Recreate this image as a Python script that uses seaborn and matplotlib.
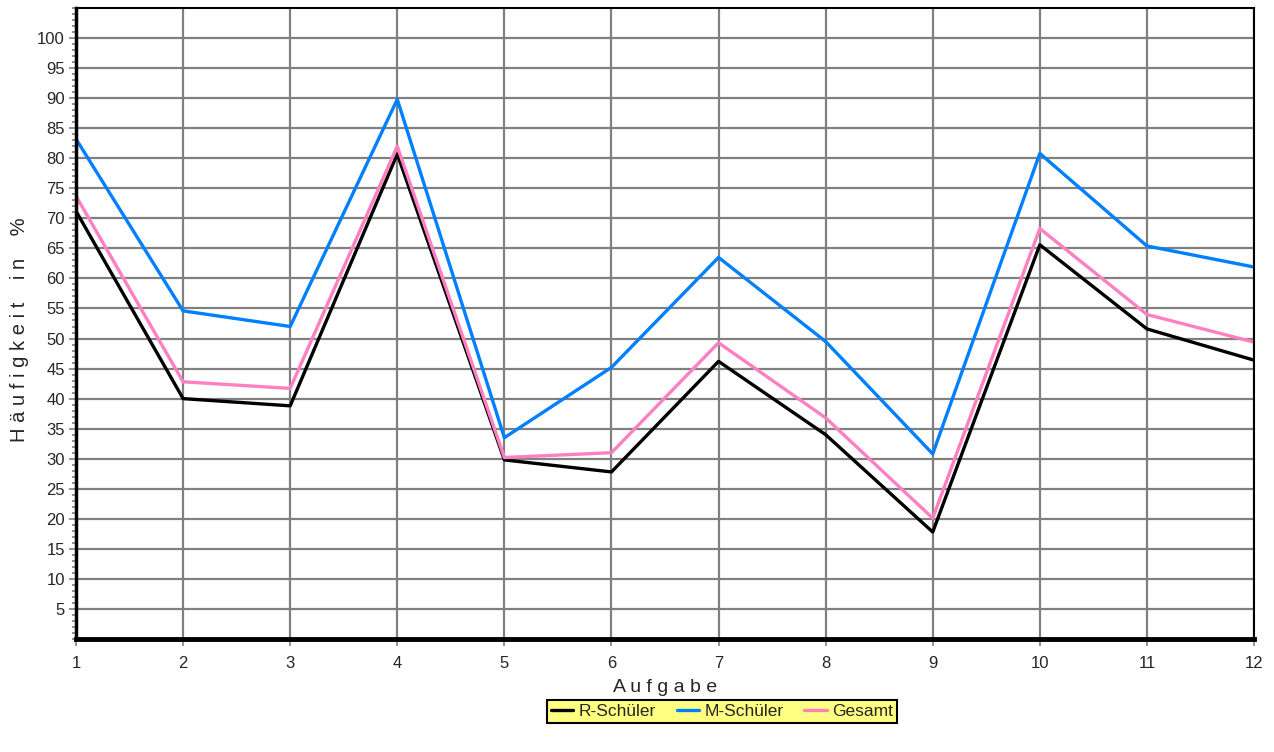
import numpy as np
import pandas as pd
import matplotlib
matplotlib.use('Agg')
import matplotlib.pyplot as plt
from matplotlib.ticker import MultipleLocator
import seaborn as sns

aufgabe = [1, 2, 3, 4, 5, 6, 7, 8, 9, 10, 11, 12]
r_schueler = [71.2, 40.0, 38.8, 80.7, 29.8, 27.8, 46.2, 34.0, 17.8, 65.6, 51.6, 46.4]
m_schueler = [83.2, 54.6, 52.0, 89.8, 33.5, 45.2, 63.5, 49.5, 30.8, 80.8, 65.4, 61.9]
gesamt = [73.7, 42.8, 41.7, 82.0, 30.2, 31.0, 49.3, 36.8, 20.1, 68.3, 54.0, 49.4]

series = ['R-Schüler', 'M-Schüler', 'Gesamt']
colors = ['#000000', '#0080ff', '#ff80c0']

df = pd.DataFrame({'Aufgabe': aufgabe * 3,
                   'wert': r_schueler + m_schueler + gesamt,
                   'gruppe': np.repeat(series, len(aufgabe))})

sns.set_style('white')
plt.rcParams['font.family'] = ['Liberation Sans', 'DejaVu Sans']

fig = plt.figure(figsize=(12.74, 7.52), dpi=100)
ax = fig.add_axes([76/1274, 1 - 639/752, (1254-76)/1274, (639-8)/752])

ax.yaxis.grid(True, color='#808080', lw=1.6)
ax.xaxis.grid(True, color='#808080', lw=1.6)
ax.set_axisbelow(True)

sns.lineplot(data=df, x='Aufgabe', y='wert', hue='gruppe', hue_order=series,
             palette=colors, lw=2.4, ax=ax, legend=False, sort=False)

ax.set_xlim(1, 12)
ax.set_ylim(0, 105)
ax.set_xticks(aufgabe)
ax.set_yticks(np.arange(5, 101, 5))
ax.yaxis.set_minor_locator(MultipleLocator(1))
ax.tick_params(axis='both', which='major', direction='out', length=5, width=1.2,
               color='#808080', labelsize=12, left=True, bottom=True)
ax.tick_params(axis='x', which='major', pad=7)
ax.tick_params(axis='y', which='major', pad=3)
ax.tick_params(axis='y', which='minor', direction='out', length=3, width=1.2,
               color='#808080', left=True)

for s in ['top', 'right']:
    ax.spines[s].set_color('black')
    ax.spines[s].set_linewidth(1.5)
ax.spines['left'].set_color('black')
ax.spines['left'].set_linewidth(2.5)
ax.spines['bottom'].set_color('black')
ax.spines['bottom'].set_linewidth(3.5)

ax.set_xlabel('A u f g a b e', fontsize=14, labelpad=6)
ax.set_ylabel('H ä u f i g k e i t    i n    %', fontsize=14.5, labelpad=5)
ax.yaxis.set_label_coords(-0.040, 0.49)

handles = [plt.Line2D([], [], color=c, lw=2.4) for c in colors]
leg = fig.legend(handles, series, loc='center', bbox_to_anchor=(722/1274, 1 - 711.5/752),
                 ncol=3, frameon=True, fancybox=False, fontsize=12.5,
                 handlelength=1.3, handletextpad=0.3, columnspacing=1.2,
                 borderpad=0.2, borderaxespad=0)
leg.get_frame().set_facecolor('#ffff80')
leg.get_frame().set_edgecolor('black')
leg.get_frame().set_linewidth(1.5)
leg.get_frame().set_alpha(1)

plt.savefig('out.png', dpi=100)
